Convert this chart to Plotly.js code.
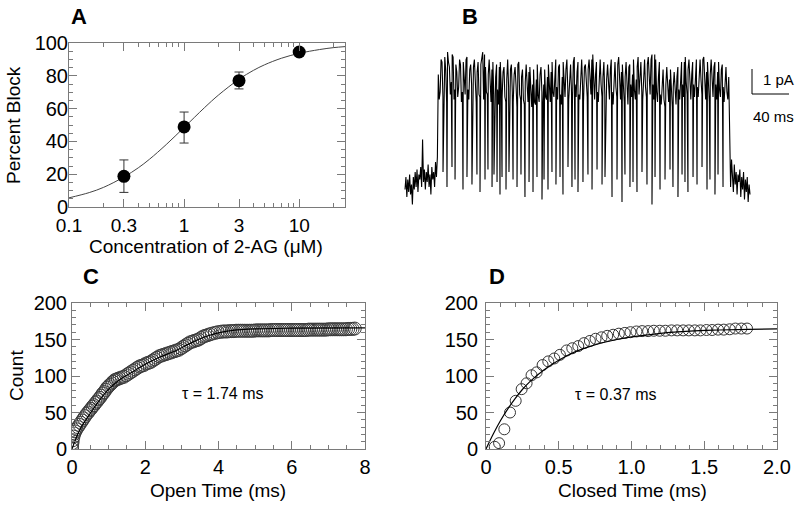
<!DOCTYPE html>
<html>
<head>
<meta charset="utf-8">
<script src="https://cdn.plot.ly/plotly-3.0.1.min.js"></script>
<style>html,body{margin:0;padding:0;background:#fff;}#chart{width:800px;height:506px;}</style>
</head>
<body>
<div id="chart"></div>
<script>
// ---------- Panel A: dose-response ----------
const concA = [0.3, 1, 3, 10];
const blockA = [18.7, 48.8, 77.0, 94.5];
const errUpA = [10.0, 9.1, 5.3, 1.5];
const errDnA = [9.8, 9.8, 5.0, 1.5];
const fitConcA = [0.1, 0.15, 0.2, 0.3, 0.4, 0.5, 0.7, 1, 1.5, 2, 3, 4, 5, 7, 10, 15, 20, 25];
const fitBlockA = [5.6, 8.8, 12.0, 18.3, 23.9, 29.1, 38.1, 48.5, 60.5, 68.4, 77.9, 83.3, 86.7, 90.7, 93.7, 96.0, 97.2, 97.8];
const tickValsA = [0.1, 0.3, 1, 3, 10];
const tickTextA = ['0.1', '0.3', '1', '3', '10'];
const minorValsA = [0.2, 0.4, 0.5, 0.6, 0.7, 0.8, 0.9, 2, 4, 5, 6, 7, 8, 9, 20];

// ---------- Panel B: single-channel trace (ms, pA) ----------
const preStepMs = 1;
const preBase = [-0.3,0.2,-0.6,0.1,-0.4,0.3,-0.5,-0.1,-0.9,0.2,-0.3,0.4,-0.2,0.5,-0.4,0.3,0.1,0.6,-0.2,1.7,0.0,0.5,-0.3,0.4,0.0,0.7,-0.2,0.3,-0.5,0.6,0.1,0.4,-0.2,0.8,0.2,1.0];
const openStartMs = 36, openStepMs = 2;
const openLevel = [
 4.3,3.6,4.8,3.9,4.5,5.2,4.6,4.0,5.0,3.7,
 4.4,3.8,4.7,3.6,4.2,4.9,3.7,4.5,3.9,4.6,
 3.8,4.4,3.5,4.7,5.2,5.1,3.6,4.3,3.8,4.5,
 3.5,4.2,3.7,4.6,3.9,4.4,3.4,4.1,3.8,4.5,
 3.6,4.3,3.9,4.7,3.5,4.2,3.3,4.0,3.6,4.4,
 3.4,3.9,3.2,4.1,3.5,4.3,3.6,3.9,3.4,4.2,
 3.7,4.4,3.6,4.1,3.8,4.6,3.5,4.2,3.9,4.5,
 3.7,4.3,3.6,4.8,3.9,4.4,3.5,4.2,3.8,4.6,
 3.7,4.5,4.0,4.9,3.8,4.3,3.6,4.4,3.9,4.2,
 3.5,4.1,3.7,4.5,3.6,4.3,3.8,4.7,4.0,4.4,
 3.6,4.2,3.5,4.6,3.9,4.3,3.7,4.1,5.0,4.0,
 3.6,4.4,3.8,4.7,4.1,4.9,3.9,5.1,3.6,4.2,
 3.5,4.0,3.3,3.9,3.6,4.1,3.4,3.8,3.5,4.2,
 3.7,4.4,3.9,4.8,4.0,4.5,3.7,4.3,3.9,4.6,
 3.8,4.5,4.1,4.9,3.9,4.4,3.6,4.3,3.8,4.6,
 3.9,4.4,3.7,4.5,3.8,4.1,3.6,4.2];
// samples midway between the openLevel samples (t = 37, 39, ... 349 ms)
const openMid = [
 3.3,4.9,3.4,5.0,3.2,4.8,3.5,5.1,3.3,4.7,
 3.4,4.9,3.2,4.8,3.5,5.0,3.3,4.7,3.4,4.9,
 3.2,4.8,3.4,5.0,3.3,4.6,3.5,4.9,3.2,4.8,
 3.3,4.7,3.1,4.8,3.4,4.6,3.2,4.9,3.3,4.7,
 3.2,4.6,3.0,4.8,3.3,4.5,3.1,4.7,3.2,4.6,
 3.0,4.5,3.1,4.7,3.2,4.6,3.0,4.5,3.3,4.7,
 3.2,4.8,3.4,4.9,3.3,4.7,3.1,4.8,3.4,4.9,
 3.3,4.7,3.2,5.0,3.4,4.8,3.3,4.9,3.2,4.7,
 3.4,4.9,3.5,5.1,3.3,4.8,3.2,4.9,3.4,4.8,
 3.2,4.7,3.3,4.9,3.1,4.8,3.4,5.0,3.3,4.7,
 3.2,4.8,3.1,4.7,3.4,4.9,3.3,4.6,3.5,4.8,
 3.3,4.9,3.4,5.0,3.5,5.1,3.3,4.9,3.2,4.8,
 3.1,4.5,3.0,4.6,3.2,4.5,3.0,4.4,3.1,4.6,
 3.3,4.8,3.4,5.0,3.5,4.9,3.3,4.8,3.4,4.9,
 3.4,4.9,3.5,5.0,3.3,4.8,3.2,4.9,3.4,4.8,
 3.3,4.8,3.4,4.7,3.2,4.6,3.3];
const closeT = [41.1,45.4,50.8,54.1,62.7,67.0,72.4,77.8,81.1,86.5,89.7,94.1,96.2,99.5,102.7,104.9,109.2,112.4,116.8,121.1,125.4,129.7,134.1,138.4,142.7,148.1,150.3,154.6,158.9,163.2,167.6,170.8,176.2,180.5,183.8,187.0,192.4,197.8,202.2,207.6,213.0,216.2,223.8,229.2,234.6,237.8,243.2,246.5,250.8,256.2,261.6,267.0,270.3,275.7,281.1,286.5,289.7,295.1,299.5,302.7,305.9,311.4,315.7,321.1,326.5,329.7,335.1,338.4,343.8];
const closeI = [0.4,-0.2,0.6,0.1,-0.3,0.2,-0.1,0.3,-0.4,0.1,
 0.5,-0.2,0.3,0.0,-0.5,0.2,-0.3,0.4,0.1,-0.2,
 0.3,-0.6,0.0,-0.4,0.2,-0.7,0.1,-0.3,0.4,-0.1,
 0.2,-0.5,0.6,-0.2,0.1,-0.4,0.0,0.3,-0.3,0.5,
 -0.1,0.2,-0.6,0.1,-0.8,0.3,-0.2,0.0,-0.4,0.4,
 -0.1,-0.9,0.2,-0.3,0.1,0.5,-0.2,-0.6,0.3,0.0,
 -0.4,0.2,-0.1,0.6,-0.3,0.1,-0.5,0.3,-0.2];
const postStartMs = 351, postStepMs = 1;
const postBase = [0.6,-0.2,0.9,0.1,-0.4,0.7,-0.1,0.4,-0.5,0.3,0.0,0.5,-0.6,0.2,-0.3,0.4,-0.7,0.1,-0.4,0.2,-0.8,-0.1,-0.5];
const scaleBarPA = 1, scaleBarMS = 40;

// ---------- Panel C: cumulative open times ----------
const openTimeC = [0,0,0.01,0.02,0.04,0.06,0.09,0.12,0.16,0.20,0.24,0.28,0.32,0.36,0.40,0.44,0.48,0.52,0.56,0.60,0.64,0.68,0.72,0.76,0.80,0.84,0.88,0.92,0.96,1.00,1.04,1.08,1.12,1.16,1.20,1.25,1.30,1.36,1.42,1.48,1.54,1.60,1.66,1.72,1.78,1.84,1.90,1.96,2.02,2.08,2.14,2.20,2.26,2.32,2.38,2.44,2.50,2.56,2.62,2.68,2.74,2.80,2.86,2.92,2.98,3.04,3.10,3.16,3.22,3.28,3.34,3.40,3.46,3.52,3.58,3.64,3.70,3.76,3.82,3.90,3.98,
 4.06,4.12,4.18,4.24,4.30,4.36,4.42,4.48,4.54,4.60,4.66,4.72,4.78,4.84,4.90,4.96,5.02,5.08,5.14,5.20,5.26,5.32,5.38,5.44,5.50,5.56,5.62,5.68,5.74,5.80,5.86,5.92,5.98,6.04,6.10,6.16,6.22,6.28,6.34,6.40,6.46,6.52,6.58,6.64,6.70,6.76,6.82,6.88,6.94,7.00,7.06,7.12,7.18,7.24,7.30,7.36,7.42,7.48,7.54,7.60,7.66,7.72];
const countC = [0,4,8,12,17,21,24,27,30,33,36,39,42,45,48,50,53,55,58,60,63,65,68,70,73,76,78,81,84,86,88,90,92,94,95,96,97,98,99,101,103,105,107,109,111,113,114,115,117,118,119,121,123,125,127,128,129,130,131,132,133,134,135,136,138,140,142,144,146,147,148,149,150,152,154,155,156,157,158,159,160,
 160.5,161,161,161,161.5,161.5,161.5,162,162,162,162,162,162,162,162,162,162.5,162.5,162.5,162.5,162.5,162.5,162.5,163,163,163,163,163,163,163,163,163,163,163,163,163,163,163,163,163,163.5,163.5,163.5,163.5,163.5,163.5,163.5,163.5,163.5,164,164,164,164,164,164,164,164,164,164.5,164.5,164.5,165];
const fitTimeC = [0,0.2,0.5,0.8,1.0,1.3,1.6,2.0,2.4,2.8,3.2,3.6,4.0,4.4,5.0,6.0,8.0];
const fitCountC = [0,25,49,70,82,95,104,116,126,134,144,153,159,162.5,164.5,165.5,166];

// ---------- Panel D: cumulative closed times ----------
const closedTimeD = [0.06,0.09,0.126,0.165,0.204,0.245,0.279,0.313,0.348,0.389,0.428,0.469,0.508,0.554,0.593,0.634,0.673,0.714,0.753,0.794,0.833,0.874,0.913,0.954,0.993,1.034,1.073,1.114,1.153,1.194,1.233,1.275,1.314,1.355,1.394,1.435,1.474,1.515,1.554,1.595,1.634,1.675,1.714,1.755,1.794];
const countD = [3,8,27,50,66,82,90,101,105,115,120,124,129,135,138,141,145,148,151,153,155,156.5,158,159,160,161,161.5,161.5,162,162,162,162.5,162.5,162.5,162.5,162.5,162.5,163,163,163.5,163.5,164,165,165,165];
const fitTimeD = [0,0.05,0.1,0.15,0.2,0.25,0.3,0.4,0.5,0.6,0.7,0.8,0.9,1.0,1.2,1.4,1.6,1.8,2.0];
const fitCountD = [0,20.5,39,55,69,81.5,92,108.5,121.5,132,139.5,145.5,150,153.5,158.5,161.5,163,164,164.5];

// ---------- build panel B series ----------
const pts = [];
preBase.forEach((v, k) => pts.push([k * preStepMs, v]));
openLevel.forEach((v, k) => pts.push([openStartMs + k * openStepMs, v]));
openMid.forEach((v, k) => pts.push([openStartMs + 1 + k * openStepMs, v]));
closeT.forEach((t, k) => pts.push([t, closeI[k]]));
postBase.forEach((v, k) => pts.push([postStartMs + k * postStepMs, v]));
pts.sort((a, b) => a[0] - b[0]);
const tB = pts.map(p => p[0]), iB = pts.map(p => p[1]);

// ---------- layout helpers ----------
const W = 800, H = 506;
const FONT = 'Liberation Sans, Arial, Helvetica, sans-serif';
const GRAY = '#7a7a7a';
const px = x => x / W;
const py = y => 1 - y / H;

function frameAxis(extra) {
  return Object.assign({
    showline: true, linecolor: GRAY, linewidth: 1, mirror: 'ticks',
    ticks: 'inside', ticklen: 8, tickwidth: 1, tickcolor: GRAY,
    showgrid: false, zeroline: false,
    tickfont: {family: FONT, size: 20, color: '#000'},
    fixedrange: true
  }, extra);
}
function minor(extra) {
  return Object.assign({ticks: 'inside', ticklen: 4, tickwidth: 1, tickcolor: GRAY, showgrid: false}, extra);
}

const traces = [
  {x: fitConcA, y: fitBlockA, xaxis: 'x', yaxis: 'y', mode: 'lines', line: {color: '#444', width: 1, shape: 'spline'}, hoverinfo: 'skip'},
  {x: concA, y: blockA, xaxis: 'x', yaxis: 'y', mode: 'markers',
   marker: {color: '#000', size: 13},
   error_y: {type: 'data', symmetric: false, array: errUpA, arrayminus: errDnA, color: '#333', thickness: 1, width: 4.5}},
  {x: tB, y: iB, xaxis: 'x4', yaxis: 'y4', mode: 'lines', line: {color: '#000', width: 1.1}, hoverinfo: 'skip'},
  {x: openTimeC, y: countC, xaxis: 'x2', yaxis: 'y2', mode: 'markers',
   marker: {symbol: 'circle-open', size: 13, color: '#3a3a3a', line: {width: 1, color: '#3a3a3a'}}},
  {x: fitTimeC, y: fitCountC, xaxis: 'x2', yaxis: 'y2', mode: 'lines', line: {color: '#000', width: 1.2, shape: 'spline'}},
  {x: closedTimeD, y: countD, xaxis: 'x3', yaxis: 'y3', mode: 'markers',
   marker: {symbol: 'circle-open', size: 11, color: '#333', line: {width: 1, color: '#333'}}},
  {x: fitTimeD, y: fitCountD, xaxis: 'x3', yaxis: 'y3', mode: 'lines', line: {color: '#000', width: 1.2, shape: 'spline'}}
];

// B axis mapping: 0.925 px per ms, 25 px per pA, t=0 at px 405, 0 pA at py 182
const bPxPerMs = 0.925, bPxPerPA = 25;
const bX0 = 405, bY0 = 182, bLeft = 400, bRight = 800, bTop = 40, bBottom = 220;
const sbX = (752 - bX0) / bPxPerMs, sbY = (bY0 - 94) / bPxPerPA;
traces.push({x: [sbX, sbX, sbX + scaleBarMS], y: [sbY + scaleBarPA, sbY, sbY],
  xaxis: 'x4', yaxis: 'y4', mode: 'lines', line: {color: '#000', width: 1}, cliponaxis: false});

const layout = {
  width: W, height: H, margin: {l: 0, r: 0, t: 0, b: 0},
  paper_bgcolor: '#fff', plot_bgcolor: '#fff', showlegend: false,
  font: {family: FONT, color: '#000'},
  xaxis: frameAxis({domain: [px(69), px(345)], anchor: 'y', type: 'log', range: [-1, Math.log10(25)],
    tickmode: 'array', tickvals: tickValsA, ticktext: tickTextA, ticklabelstandoff: 1,
    tickfont: {family: FONT, size: 19, color: '#000'},
    minor: minor({tickmode: 'array', tickvals: minorValsA})}),
  yaxis: frameAxis({domain: [py(207), py(43)], anchor: 'x', range: [0, 100], dtick: 20, ticklabelstandoff: -4,
    minor: minor({dtick: 5})}),
  xaxis2: frameAxis({domain: [px(72), px(365)], anchor: 'y2', range: [0, 8], dtick: 2,
    minor: minor({dtick: 0.5})}),
  yaxis2: frameAxis({domain: [py(449), py(303)], anchor: 'x2', range: [0, 200], dtick: 50,
    minor: minor({dtick: 10})}),
  xaxis3: frameAxis({domain: [px(486), px(777)], anchor: 'y3', range: [0, 2],
    tickmode: 'array', tickvals: [0, 0.5, 1, 1.5, 2], ticktext: ['0', '0.5', '1.0', '1.5', '2.0'],
    minor: minor({dtick: 0.1})}),
  yaxis3: frameAxis({domain: [py(449), py(303)], anchor: 'x3', range: [0, 200], dtick: 50, ticklabelstandoff: 3,
    minor: minor({dtick: 10})}),
  xaxis4: {domain: [px(bLeft), px(bRight)], anchor: 'y4', visible: false, fixedrange: true,
    range: [(bLeft - bX0) / bPxPerMs, (bRight - bX0) / bPxPerMs]},
  yaxis4: {domain: [py(bBottom), py(bTop)], anchor: 'x4', visible: false, fixedrange: true,
    range: [(bY0 - bBottom) / bPxPerPA, (bY0 - bTop) / bPxPerPA]},
  annotations: []
};

function ann(text, x, y, opts) {
  layout.annotations.push(Object.assign({text: text, xref: 'paper', yref: 'paper', x: px(x), y: py(y),
    showarrow: false, xanchor: 'center', yanchor: 'middle',
    font: {family: FONT, size: 19, color: '#000'}}, opts || {}));
}
const bold = {family: FONT, size: 22, color: '#000', weight: 'bold'};
ann('<b>A</b>', 69, 16, {xanchor: 'left', font: bold});
ann('<b>B</b>', 460, 16, {xanchor: 'left', font: bold});
ann('<b>C</b>', 81, 276, {xanchor: 'left', font: bold});
ann('<b>D</b>', 487, 276, {xanchor: 'left', font: bold});
ann('Percent Block', 13, 125, {textangle: -90});
ann('Concentration of 2-AG (\u03bcM)', 206, 246);
ann('Count', 16, 376, {textangle: -90});
ann('Open Time (ms)', 218, 490);
ann('Closed Time (ms)', 632, 490);
ann('\u03c4 = 1.74 ms', 180, 393, {xanchor: 'left', font: {family: FONT, size: 16, color: '#000'}});
ann('\u03c4 = 0.37 ms', 573, 394, {xanchor: 'left', font: {family: FONT, size: 16, color: '#000'}});
ann('1 pA', 761, 79, {xanchor: 'left', font: {family: FONT, size: 15, color: '#000'}});
ann('40 ms', 751, 116, {xanchor: 'left', font: {family: FONT, size: 15, color: '#000'}});

Plotly.newPlot('chart', traces, layout, {staticPlot: true, displayModeBar: false});
</script>
</body>
</html>
